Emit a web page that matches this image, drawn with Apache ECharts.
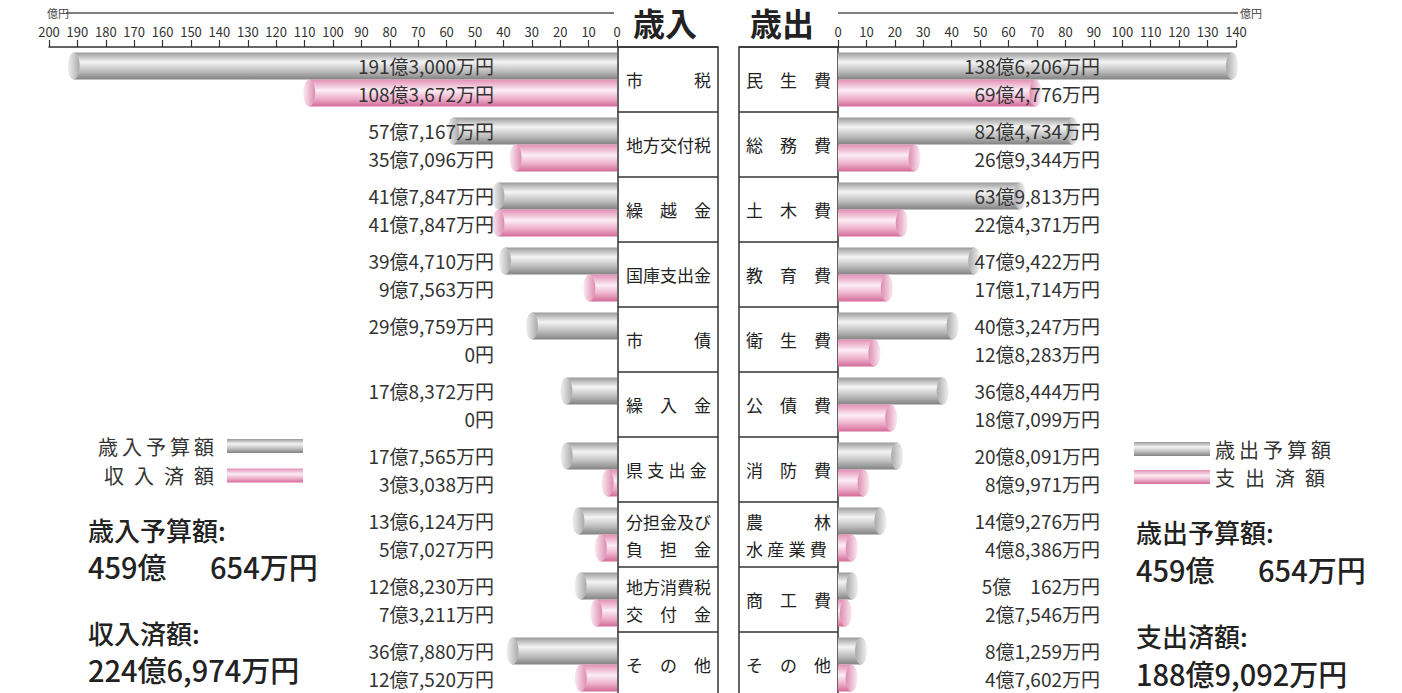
<!DOCTYPE html>
<html>
<head>
<meta charset="utf-8">
<script src="https://cdn.jsdelivr.net/npm/echarts@6.0.0/dist/echarts.min.js"></script>
<style>
  html, body { margin: 0; padding: 0; background: #fff; }
  #main { width: 1402px; height: 693px; }
</style>
</head>
<body>
<div id="main"></div>
<script>
// 歳入・歳出の項目（枠内の表示用）
var revCats = ['市　　　税', '地方交付税', '繰　越　金', '国庫支出金', '市　　　債', '繰　入　金',
  '県\u2005支\u2005出\u2005金', '分担金及び\n負　担　金', '地方消費税\n交　付　金', 'そ　の　他'];
var expCats = ['民　生　費', '総　務　費', '土　木　費', '教　育　費', '衛　生　費', '公　債　費',
  '消　防　費', '農　　　林\n水\u2005産\u2005業\u2005費', '商　工　費', 'そ　の　他'];

// 金額（万円）
var revBudget = [1913000, 577167, 417847, 394710, 299759, 178372, 177565, 136124, 128230, 367880];
var revActual = [1083672, 357096, 417847, 97563, 0, 0, 33038, 57027, 73211, 127520];
var expBudget = [1386206, 824734, 639813, 479422, 403247, 368444, 208091, 149276, 50162, 81259];
var expActual = [694776, 269344, 224371, 171714, 128283, 187099, 89971, 48386, 27546, 47602];

// 目盛（億円）
var revAxisMax = 200;
var expAxisMax = 140;
var tickStep = 10;

var numFont = '"Liberation Sans Narrow", "Noto Sans CJK JP", sans-serif';
var jpFont = '"Noto Sans CJK JP", sans-serif';

// 万円 -> "191億3,000万円"
function fmt(v, pad) {
  if (v === 0) return '0円';
  var oku = Math.floor(v / 10000), man = v % 10000;
  var s = oku ? oku + '億' : '';
  if (man >= 1000) {
    s += Math.floor(man / 1000) + ',' + String(man % 1000).padStart(3, '0');
  } else if (oku) {
    s += pad + man;
  } else {
    s += man;
  }
  return s + '万円';
}
function sum(a) { return a.reduce(function (x, y) { return x + y; }, 0); }
function oku(a) { return a.map(function (v) { return v / 10000; }); }
function caps(a) {
  var out = [];
  a.forEach(function (v, i) { if (v) out.push([v / 10000, i]); });
  return out;
}
// 凡例の字間
function spaced(s, gap) { return s.split('').join(gap); }

var grayBar = { type: 'linear', x: 0, y: 0, x2: 0, y2: 1, colorStops: [
  { offset: 0, color: '#9a9a9a' }, { offset: 0.35, color: '#f4f4f4' },
  { offset: 0.7, color: '#bcbcbc' }, { offset: 1, color: '#828282' }] };
var pinkBar = { type: 'linear', x: 0, y: 0, x2: 0, y2: 1, colorStops: [
  { offset: 0, color: '#e28fb5' }, { offset: 0.4, color: '#fcedf4' },
  { offset: 0.7, color: '#eeb2cc' }, { offset: 1, color: '#d36a98' }] };
function capGrad(c1, c2) {
  return { type: 'linear', x: 0, y: 0, x2: 1, y2: 0, colorStops: [
    { offset: 0, color: c1 }, { offset: 1, color: c2 }] };
}

var axisCol = '#333';
function valueAxis(grid, max, inverse) {
  return {
    gridIndex: grid, type: 'value', min: 0, max: max, interval: tickStep,
    inverse: inverse, position: 'top',
    axisLine: { show: true, lineStyle: { color: axisCol, width: 1.5 } },
    axisTick: { show: true, length: 7, lineStyle: { color: axisCol, width: 1.2 } },
    axisLabel: { fontSize: 13, margin: 9, color: '#333', fontFamily: numFont },
    splitLine: { show: false }
  };
}
function boxAxis(grid, cats, margin) {
  return {
    gridIndex: grid, type: 'category', data: cats, inverse: true, position: 'left',
    axisLine: { show: false }, axisTick: { show: false },
    splitLine: { show: true, interval: 0, lineStyle: { color: axisCol, width: 1.5 } },
    axisLabel: { inside: true, margin: margin, align: 'left', interval: 0,
      fontSize: 17, lineHeight: 27, color: '#222', fontFamily: jpFont }
  };
}
function amountAxis(grid, cats, budget, actual, pos, margin) {
  return {
    gridIndex: grid, type: 'category', data: cats, inverse: true, position: pos, z: 10,
    axisLine: { show: false, onZero: false }, axisTick: { show: false },
    axisLabel: { inside: true, margin: margin, align: 'right', interval: 0,
      fontSize: 19, lineHeight: 28, padding: [4, 0, 0, 0], color: '#333', fontFamily: numFont,
      formatter: function (val, i) { return fmt(budget[i], '\u3000') + '\n' + fmt(actual[i], '\u3000'); } }
  };
}
function barSeries(name, x, y, data, color) {
  return { name: name, type: 'bar', xAxisIndex: x, yAxisIndex: y, data: oku(data),
    barWidth: 27, barGap: '0%', itemStyle: { color: color }, silent: true };
}
function capSeries(name, x, y, data, color, dy) {
  return { name: name, type: 'scatter', xAxisIndex: x, yAxisIndex: y, data: caps(data),
    symbol: 'circle', symbolSize: [12, 27], symbolOffset: [0, dy], z: 3, silent: true,
    itemStyle: { color: color, opacity: 1 } };
}

var legendText = { fontSize: 20, color: '#333', fontFamily: jpFont };
var sumLabel = { fontSize: 26, fontWeight: 500, fontFamily: jpFont, fill: '#222', verticalAlign: 'middle' };
var sumValue = { fontSize: 29, fontWeight: 500, fontFamily: jpFont, fill: '#222', verticalAlign: 'middle' };
function txt(x, y, text, style) {
  return { type: 'text', x: x, y: y, style: Object.assign({ text: text }, style) };
}

var chart = echarts.init(document.getElementById('main'), null, { renderer: 'svg' });
chart.setOption({
  backgroundColor: '#fff',
  animation: false,
  title: [
    { text: '歳入', left: 633, top: 6, padding: 0, textStyle: { fontSize: 32, fontWeight: 'bold', color: '#222', fontFamily: jpFont } },
    { text: '歳出', left: 750, top: 6, padding: 0, textStyle: { fontSize: 32, fontWeight: 'bold', color: '#222', fontFamily: jpFont } }
  ],
  legend: [
    { data: ['歳入予算額', '収入済額'], orient: 'vertical', left: 98, top: 436, padding: 0, align: 'right',
      icon: 'rect', itemWidth: 76, itemHeight: 14, itemGap: 9.5, selectedMode: false,
      textStyle: legendText,
      formatter: function (n) {
        return (n === '収入済額' ? spaced(n, '\u2002') : spaced(n, '\u2009')) + '\u2009\u2009';
      } },
    { data: ['歳出予算額', '支出済額'], orient: 'vertical', left: 1134, top: 439, padding: 0, align: 'left',
      icon: 'rect', itemWidth: 76, itemHeight: 14, itemGap: 8, selectedMode: false,
      textStyle: legendText,
      formatter: function (n) {
        return n === '支出済額' ? spaced(n, '\u2002') : spaced(n, '\u2009');
      } }
  ],
  grid: [
    { left: 49, top: 47, width: 568, height: 650, outerBoundsMode: 'none' },
    { left: 618, top: 47, width: 100, height: 650, show: true, borderColor: axisCol, borderWidth: 1.5,
      backgroundColor: '#fff', outerBoundsMode: 'none' },
    { left: 739, top: 47, width: 99, height: 650, show: true, borderColor: axisCol, borderWidth: 1.5,
      backgroundColor: '#fff', outerBoundsMode: 'none' },
    { left: 838, top: 47, width: 398, height: 650, outerBoundsMode: 'none' }
  ],
  xAxis: [
    valueAxis(0, revAxisMax, true),
    { gridIndex: 1, type: 'value', show: false },
    { gridIndex: 2, type: 'value', show: false },
    valueAxis(3, expAxisMax, false)
  ],
  yAxis: [
    amountAxis(0, revCats, revBudget, revActual, 'right', 123),
    boxAxis(1, revCats, 8),
    boxAxis(2, expCats, 7),
    amountAxis(3, expCats, expBudget, expActual, 'left', 262)
  ],
  series: [
    barSeries('歳入予算額', 0, 0, revBudget, grayBar),
    barSeries('収入済額', 0, 0, revActual, pinkBar),
    capSeries('歳入予算額-端', 0, 0, revBudget, capGrad('#f2f2f2', '#a9a9a9'), -13.5),
    capSeries('収入済額-端', 0, 0, revActual, capGrad('#fbeaf2', '#dc8db0'), 13.5),
    barSeries('歳出予算額', 3, 3, expBudget, grayBar),
    barSeries('支出済額', 3, 3, expActual, pinkBar),
    capSeries('歳出予算額-端', 3, 3, expBudget, capGrad('#a9a9a9', '#f2f2f2'), -13.5),
    capSeries('支出済額-端', 3, 3, expActual, capGrad('#dc8db0', '#fbeaf2'), 13.5)
  ],
  graphic: [
    { type: 'line', shape: { x1: 66, y1: 13, x2: 614, y2: 13 }, style: { stroke: '#555', lineWidth: 1.5 } },
    txt(47, 13, '億円', { fontSize: 11, fontFamily: jpFont, fill: '#444', verticalAlign: 'middle' }),
    { type: 'line', shape: { x1: 838, y1: 13, x2: 1238, y2: 13 }, style: { stroke: '#555', lineWidth: 1.5 } },
    txt(1240, 13, '億円', { fontSize: 11, fontFamily: jpFont, fill: '#444', verticalAlign: 'middle' }),

    txt(88, 529, '歳入予算額:', sumLabel),
    txt(88, 566, fmt(sum(revBudget), '\u3000\u2002'), sumValue),
    txt(88, 632, '収入済額:', sumLabel),
    txt(88, 669, fmt(sum(revActual), '\u3000\u2002'), sumValue),

    txt(1136, 531, '歳出予算額:', sumLabel),
    txt(1136, 569, fmt(sum(expBudget), '\u3000\u2002'), sumValue),
    txt(1136, 635, '支出済額:', sumLabel),
    txt(1136, 673, fmt(sum(expActual), '\u3000\u2002'), sumValue)
  ]
});
</script>
</body>
</html>
